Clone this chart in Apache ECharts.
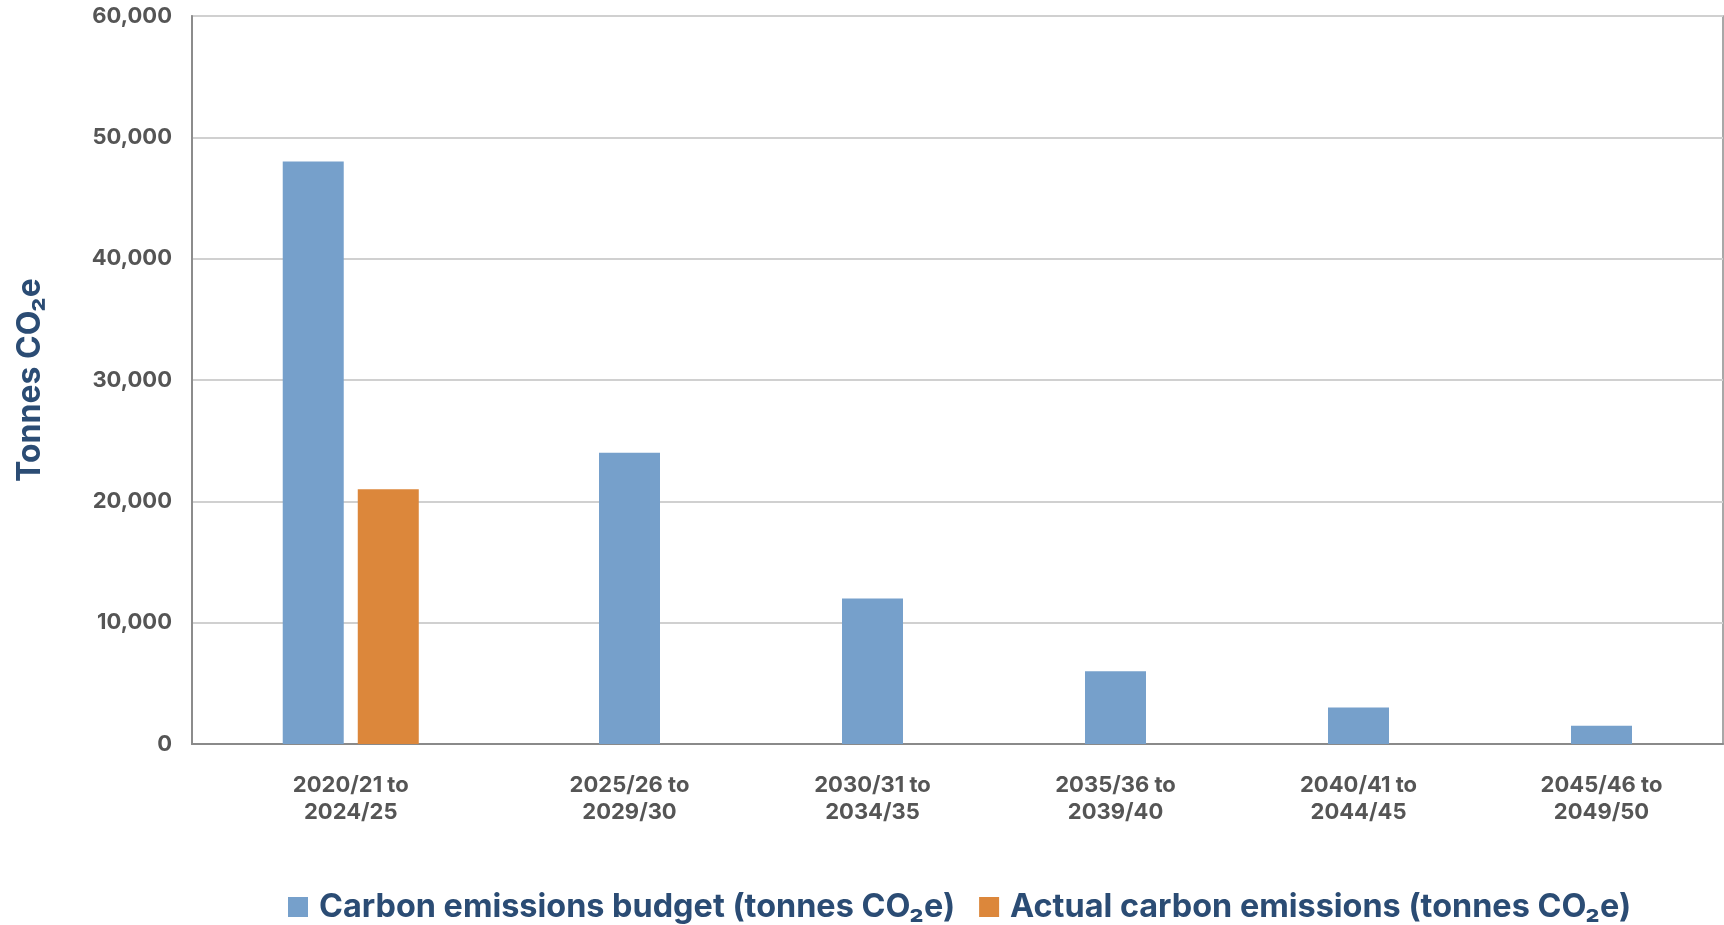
<!DOCTYPE html>
<html>
<head>
<meta charset="utf-8">
<title>Carbon emissions budget</title>
<script src="https://cdn.jsdelivr.net/npm/echarts@6/dist/echarts.min.js"></script>
<style>
  html, body { margin: 0; padding: 0; background: #fff; }
  #main { width: 1724px; height: 925px; }
</style>
</head>
<body>
<div id="main"></div>
<script>
const categories = [
  "2020/21 to\n2024/25",
  "2025/26 to\n2029/30",
  "2030/31 to\n2034/35",
  "2035/36 to\n2039/40",
  "2040/41 to\n2044/45",
  "2045/46 to\n2049/50",
];
const budget = [48000, 24000, 12000, 6000, 3000, 1500];
const actual = [21000, null, null, null, null, null];
const yTicks = [0, 10000, 20000, 30000, 40000, 50000, 60000];

const budgetName = "Carbon emissions budget (tonnes CO₂e)";
const actualName = "Actual carbon emissions (tonnes CO₂e)";
const blue = "#76a0cb";
const orange = "#dc873b";
const navy = "#2b4c74";
const font = "Inter";

// first period has both bars side by side, later periods only the budget bar
const budgetFirst = budget.map((v, i) => (i === 0 ? v : null));
const budgetRest = budget.map((v, i) => (i === 0 ? null : v));

const catLabel = {
  margin: 28,
  color: "#555",
  fontSize: 22,
  fontWeight: "bold",
  lineHeight: 27,
  fontFamily: font,
};

function catAxis(gridIndex, showIndex) {
  return {
    gridIndex: gridIndex,
    type: "category",
    data: categories,
    axisLine: { show: false },
    axisTick: { show: false },
    axisLabel: Object.assign({ interval: (i) => showIndex(i) }, catLabel),
  };
}

function hiddenY(gridIndex) {
  return {
    gridIndex: gridIndex,
    type: "value",
    min: yTicks[0],
    max: yTicks[yTicks.length - 1],
    show: false,
  };
}

function chartOption() {
  return {
    animation: false,
    textStyle: { fontFamily: font },
    grid: [
      { left: 192, right: 1, top: 16, bottom: 181, show: true, borderColor: "#8c8c8c", borderWidth: 1.5 },
      { left: 226, right: 1, top: 16, bottom: 181 },
      { left: 265, right: 1, top: 16, bottom: 181 },
    ],
    legend: {
      left: 283,
      top: 886,
      itemWidth: 20,
      itemHeight: 20,
      itemGap: 24,
      icon: "rect",
      data: [budgetName, actualName],
      textStyle: {
        color: navy,
        fontSize: 32.4,
        fontWeight: "bold",
        fontFamily: font,
        padding: [0, 0, 0, 6],
      },
    },
    xAxis: [
      {
        gridIndex: 0,
        type: "category",
        data: [""],
        axisLine: { lineStyle: { color: "#8a8a8a", width: 2 } },
        axisTick: { show: false },
        axisLabel: { show: false },
      },
      catAxis(1, (i) => i === 0),
      catAxis(2, (i) => i > 0),
    ],
    yAxis: [
      {
        gridIndex: 0,
        type: "value",
        min: yTicks[0],
        max: yTicks[yTicks.length - 1],
        interval: yTicks[1] - yTicks[0],
        name: "Tonnes CO₂e",
        nameLocation: "middle",
        nameGap: 146,
        nameTextStyle: { color: navy, fontSize: 32, fontWeight: "bold", fontFamily: font },
        axisLine: { show: true, lineStyle: { color: "#8c8c8c", width: 2 } },
        axisTick: { show: false },
        axisLabel: {
          margin: 20,
          color: "#555",
          fontSize: 22,
          fontWeight: "bold",
          fontFamily: font,
          formatter: (v) => v.toLocaleString("en-GB"),
        },
        splitLine: { lineStyle: { color: "#d0d0d0", width: 2 } },
      },
      hiddenY(1),
      hiddenY(2),
    ],
    series: [
      {
        name: budgetName,
        type: "bar",
        xAxisIndex: 1,
        yAxisIndex: 1,
        data: budgetFirst,
        barWidth: 61,
        barGap: "23%",
        itemStyle: { color: blue },
      },
      {
        name: actualName,
        type: "bar",
        xAxisIndex: 1,
        yAxisIndex: 1,
        data: actual,
        barWidth: 61,
        itemStyle: { color: orange },
      },
      {
        name: budgetName,
        type: "bar",
        xAxisIndex: 2,
        yAxisIndex: 2,
        data: budgetRest,
        barWidth: 61,
        itemStyle: { color: blue },
      },
    ],
  };
}

addEventListener("load", () => {
  const el = document.getElementById("main");
  if (!el) return;
  const chart = echarts.init(el);
  chart.setOption(chartOption());
});
</script>
</body>
</html>
